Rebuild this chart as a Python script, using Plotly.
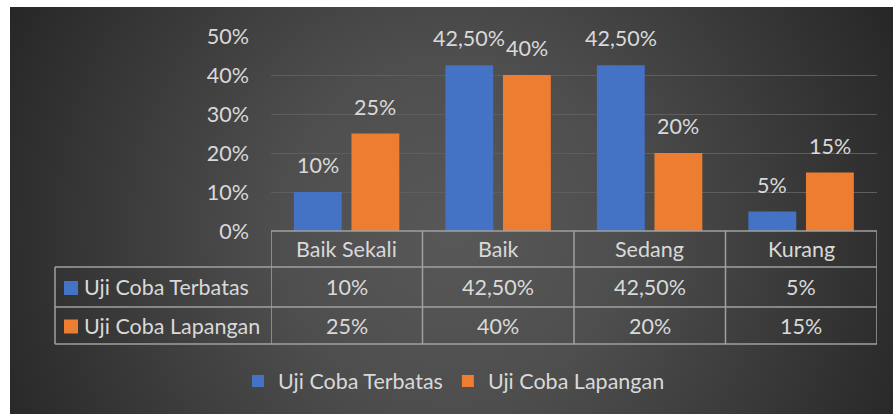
import base64
import plotly.graph_objects as go

categories = ["Baik Sekali", "Baik", "Sedang", "Kurang"]
series_names = ["Uji Coba Terbatas", "Uji Coba Lapangan"]
terbatas = [0.10, 0.425, 0.425, 0.05]
lapangan = [0.25, 0.40, 0.20, 0.15]
series_values = [terbatas, lapangan]
colors = ["#4472C4", "#ED7D31"]
y_ticks = [0, 0.1, 0.2, 0.3, 0.4, 0.5]

W, H = 893, 414
L, R, T, B = 271, 16, 36, 183
pw, ph = W - L - R, H - T - B

FONT = "Lato"
TXT = "#d9d9d9"
LINE = "#a0a0a0"
FS = 21.5


def px(X):
    return (X - L) / pw


def py(Y):
    return (H - B - Y) / ph


def pct(v):
    p = v * 100
    if abs(p - round(p)) < 1e-9:
        return f"{int(round(p))}%"
    return f"{p:.2f}%".replace(".", ",")


# background: radial gradient like the office chart style
svg = (
    f"<svg xmlns='http://www.w3.org/2000/svg' width='{W}' height='{H}'>"
    "<defs><radialGradient id='g' gradientUnits='userSpaceOnUse' cx='451' cy='230' r='500'>"
    "<stop offset='0' stop-color='#585858'/>"
    "<stop offset='0.35' stop-color='#4e4e4e'/>"
    "<stop offset='1' stop-color='#262626'/>"
    "</radialGradient></defs>"
    f"<rect x='0' y='0' width='{W}' height='{H}' fill='#ffffff'/>"
    f"<rect x='10' y='7' width='{W - 10}' height='{H - 7}' fill='url(#g)'/>"
    "</svg>"
)
bg_src = "data:image/svg+xml;base64," + base64.b64encode(svg.encode()).decode()

bar_w = 0.316
offsets = [-0.349, 0.031]

fig = go.Figure()

for name, vals, color, off in zip(series_names, series_values, colors, offsets):
    fig.add_trace(go.Bar(
        x=categories,
        y=vals,
        name=name,
        width=bar_w,
        offset=off,
        marker=dict(color=color, line=dict(width=0)),
        hoverinfo="skip",
    ))

annotations = []
shapes = []

# data labels over the bars
for vals, off in zip(series_values, offsets):
    for i, v in enumerate(vals):
        annotations.append(dict(
            x=i + off + bar_w / 2, y=v, xref="x", yref="y",
            text=pct(v), showarrow=False, xanchor="center", yanchor="bottom", yshift=12,
            font=dict(family=FONT, size=FS, color=TXT),
        ))

# data table under the plot
y_top, y_r1, y_r2, y_bot = 231, 267, 307, 344
tbl_left = 55

shapes.append(dict(type="line", xref="paper", yref="paper", x0=0, x1=1,
                   y0=py(y_top), y1=py(y_top), line=dict(color=LINE, width=1.5)))
for yy in (y_r1, y_r2, y_bot):
    shapes.append(dict(type="line", xref="paper", yref="paper", x0=px(tbl_left), x1=1,
                       y0=py(yy), y1=py(yy), line=dict(color=LINE, width=1.5)))
shapes.append(dict(type="line", xref="paper", yref="paper", x0=px(tbl_left), x1=px(tbl_left),
                   y0=py(y_r1), y1=py(y_bot), line=dict(color=LINE, width=1.5)))
for k in range(len(categories) + 1):
    shapes.append(dict(type="line", xref="x", yref="paper", x0=k - 0.5, x1=k - 0.5,
                       y0=py(y_top), y1=py(y_bot), line=dict(color=LINE, width=1.5)))

for i, cat in enumerate(categories):
    annotations.append(dict(
        x=i, y=py((y_top + y_r1) / 2), xref="x", yref="paper", text=cat,
        xanchor="center", yanchor="middle",
        showarrow=False, font=dict(family=FONT, size=FS, color=TXT),
    ))

row_mid = [(y_r1 + y_r2) / 2, (y_r2 + y_bot) / 2]
for name, vals, color, ym in zip(series_names, series_values, colors, row_mid):
    shapes.append(dict(type="rect", xref="paper", yref="paper",
                       x0=px(64), x1=px(78), y0=py(ym + 8), y1=py(ym - 6),
                       fillcolor=color, line=dict(width=0)))
    annotations.append(dict(
        x=px(82), y=py(ym), xref="paper", yref="paper", text=name,
        xanchor="left", yanchor="middle", showarrow=False,
        font=dict(family=FONT, size=FS, color=TXT),
    ))
    for i, v in enumerate(vals):
        annotations.append(dict(
            x=i, y=py(ym), xref="x", yref="paper", text=pct(v),
            xanchor="center", yanchor="middle", showarrow=False,
            font=dict(family=FONT, size=FS, color=TXT),
        ))

fig.update_layout(
    width=W, height=H,
    margin=dict(l=L, r=R, t=T, b=B),
    paper_bgcolor="#ffffff",
    plot_bgcolor="rgba(0,0,0,0)",
    barmode="overlay",
    font=dict(family=FONT, size=FS, color=TXT),
    images=[dict(
        source=bg_src, xref="paper", yref="paper",
        x=-L / pw, y=1 + T / ph, sizex=W / pw, sizey=H / ph,
        xanchor="left", yanchor="top", sizing="stretch", layer="below",
    )],
    xaxis=dict(
        range=[-0.5, len(categories) - 0.5],
        showticklabels=False, showgrid=False, zeroline=False, showline=False,
    ),
    yaxis=dict(
        range=[0, 0.5], tickvals=y_ticks, tickformat=".0%",
        showgrid=True, gridcolor="#5e5e5e", gridwidth=1.3,
        zeroline=False, showline=False, ticks="", ticklabelstandoff=21,
        tickfont=dict(family=FONT, size=FS, color=TXT),
    ),
    showlegend=True,
    legend=dict(
        orientation="h", xref="paper", yref="paper",
        x=px(238), xanchor="left", y=py(381), yanchor="middle",
        bgcolor="rgba(0,0,0,0)", font=dict(family=FONT, size=FS, color=TXT),
        itemclick=False, itemdoubleclick=False,
    ),
    shapes=shapes,
    annotations=annotations,
)

fig.write_html(
    "out.html",
    config={"displayModeBar": False},
    post_script="document.body.style.margin='0px';",
)
